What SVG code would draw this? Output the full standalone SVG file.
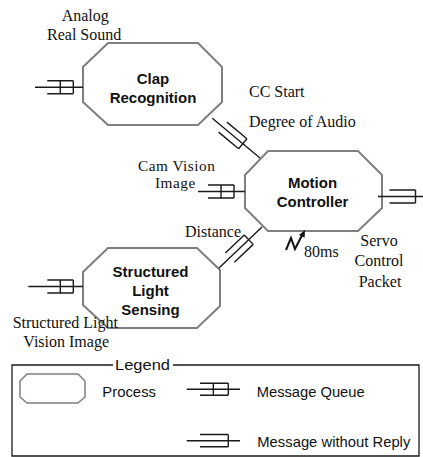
<svg xmlns="http://www.w3.org/2000/svg" xmlns:xlink="http://www.w3.org/1999/xlink" width="423" height="457" viewBox="0 0 423 457">
  <style>
    .proc { fill: #ffffff; stroke: #7f7f7f; stroke-width: 2; }
    .wire { fill: none; stroke: #1a1a1a; stroke-width: 1.4; }
    .title { font-family: "Liberation Sans", Arial, sans-serif; font-weight: bold; font-size: 15px; fill: #111; text-anchor: middle; }
    .lbl { font-family: "Liberation Serif", "Times New Roman", serif; font-size: 16px; fill: #111; }
    .tight { font-size: 15.3px; letter-spacing: 0.5px; }
    .mid { text-anchor: middle; }
    .leg { font-family: "Liberation Sans", Arial, sans-serif; font-size: 15px; fill: #111; }
  </style>
  <defs>
    <!-- message queue: two rails with a divided box on the right -->
    <path id="queue" class="wire" d="M0,-6.5H26M0,6.5H26M13,-6.5V6.5M26,-6.5V6.5"/>
    <!-- message without reply: rails closed on the right -->
    <path id="oneway" class="wire" d="M0,-6.5H26M0,6.5H26M26,-6.5V6.5"/>
  </defs>

  <rect width="423" height="457" fill="#ffffff"/>

  <!-- processes -->
  <g id="clap-recognition">
    <polygon class="proc" points="108,43 198,43 222,67 222,102 198,125 108,125 83,102 83,67"/>
    <text class="title" x="153" y="84">Clap</text>
    <text class="title" x="153" y="103.3">Recognition</text>
  </g>

  <g id="motion-controller">
    <polygon class="proc" points="268,151 358,151 382,175 382,208 358,231 268,231 245,208 245,175"/>
    <text class="title" x="312.5" y="187.7">Motion</text>
    <text class="title" x="312.5" y="207.3">Controller</text>
  </g>

  <g id="structured-light-sensing">
    <polygon class="proc" points="108,248 197,248 220,270 220,306 197,328 108,328 83,305 83,272"/>
    <text class="title" x="150.5" y="276.7">Structured</text>
    <text class="title" x="150.5" y="296">Light</text>
    <text class="title" x="150.5" y="315">Sensing</text>
  </g>

  <!-- connectors -->
  <g id="connectors">
    <!-- analog sound into clap recognition -->
    <line class="wire" x1="35" y1="87.3" x2="83" y2="87.3"/>
    <use xlink:href="#queue" href="#queue" transform="translate(47.3,87.3)"/>

    <!-- structured light image into sensing -->
    <line class="wire" x1="28.3" y1="286.5" x2="83" y2="286.5"/>
    <use xlink:href="#queue" href="#queue" transform="translate(47.3,286.5)"/>

    <!-- camera image into motion controller -->
    <line class="wire" x1="198" y1="191.5" x2="245" y2="191.5"/>
    <use xlink:href="#queue" href="#queue" transform="translate(208,191.5)"/>

    <!-- servo control packet out -->
    <line class="wire" x1="378" y1="196.5" x2="423" y2="196.5"/>
    <use xlink:href="#oneway" href="#oneway" transform="translate(389.5,196.5)"/>

    <!-- clap recognition to motion controller -->
    <line class="wire" x1="212.3" y1="118.3" x2="260" y2="158"/>
    <use xlink:href="#oneway" href="#oneway" transform="translate(222.8,127.1) rotate(39.8)"/>

    <!-- structured light sensing to motion controller -->
    <line class="wire" x1="219" y1="268" x2="262" y2="227"/>
    <use xlink:href="#oneway" href="#oneway" transform="translate(229.9,257.6) rotate(-43.6)"/>

    <!-- 80ms timer trigger -->
    <path d="M286,250 L291,238 L295,249 L302.3,234.8" fill="none" stroke="#111" stroke-width="2"/>
    <polygon points="305,230 304.6,237.8 299,234.9" fill="#111"/>
  </g>

  <!-- labels -->
  <g id="labels">
    <text class="lbl" x="61.7" y="20.5">Analog</text>
    <text class="lbl" x="47" y="39.5">Real Sound</text>
    <text class="lbl" x="249" y="97.3">CC Start</text>
    <text class="lbl" x="249" y="126.7">Degree of Audio</text>
    <text class="lbl tight" x="138" y="170.5">Cam Vision</text>
    <text class="lbl tight" x="155" y="187.5">Image</text>
    <text class="lbl" x="185" y="236.7">Distance</text>
    <text class="lbl" x="304" y="257">80ms</text>
    <text class="lbl mid" x="379" y="245.5">Servo</text>
    <text class="lbl mid" x="379" y="266">Control</text>
    <text class="lbl mid" x="380" y="286.7">Packet</text>
    <text class="lbl" x="12.7" y="328.3">Structured Light</text>
    <text class="lbl" x="23.3" y="346.7">Vision Image</text>
  </g>

  <!-- legend -->
  <g id="legend">
    <path d="M113,365H12V456H419V365H173" fill="none" stroke="#1a1a1a" stroke-width="1.3"/>
    <text class="leg" x="115" y="369.5" textLength="55" lengthAdjust="spacingAndGlyphs">Legend</text>

    <polygon class="proc" points="27,374 78,374 85,381 85,397 78,403 27,403 20,397 20,381" style="stroke-width:1.5"/>
    <text class="leg" x="102.3" y="396.5" textLength="53.7" lengthAdjust="spacingAndGlyphs">Process</text>

    <line class="wire" x1="186.7" y1="389.2" x2="240" y2="389.2"/>
    <path class="wire" d="M200,383.2H228.3M200,395.2H228.3M213.3,383.2V395.2M228.3,383.2V395.2"/>
    <text class="leg" x="256.7" y="396.5" textLength="108" lengthAdjust="spacingAndGlyphs">Message Queue</text>

    <line class="wire" x1="186.7" y1="440.7" x2="240" y2="440.7"/>
    <path class="wire" d="M200,434.5H228.3M200,446.8H228.3M228.3,434.5V446.8"/>
    <text class="leg" x="257.3" y="446.7" textLength="153" lengthAdjust="spacingAndGlyphs">Message without Reply</text>
  </g>
</svg>
